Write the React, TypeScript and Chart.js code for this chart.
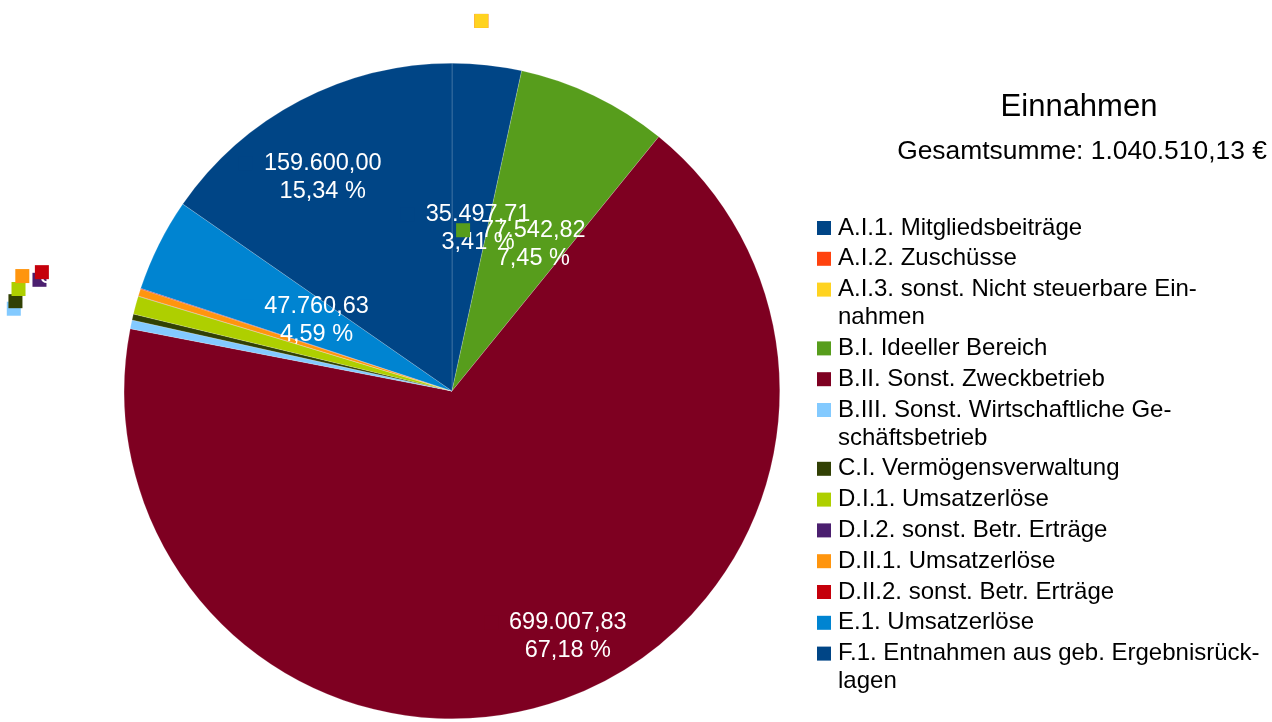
import React, { useEffect, useRef } from "react";
import { Chart, ArcElement, PieController } from "chart.js";

Chart.register(ArcElement, PieController);

// ---- data ----
const CATEGORIES = [
  "A.I.1. Mitgliedsbeiträge",
  "A.I.2. Zuschüsse",
  "A.I.3. sonst. Nicht steuerbare Ein\u00ADnahmen",
  "B.I. Ideeller Bereich",
  "B.II. Sonst. Zweckbetrieb",
  "B.III. Sonst. Wirtschaftliche Ge\u00ADschäftsbetrieb",
  "C.I. Vermögensverwaltung",
  "D.I.1. Umsatzerlöse",
  "D.I.2. sonst. Betr. Erträge",
  "D.II.1. Umsatzerlöse",
  "D.II.2. sonst. Betr. Erträge",
  "E.1. Umsatzerlöse",
  "F.1. Entnahmen aus geb. Ergebnisrück\u00ADlagen",
];
const VALUES = [
  35497.71, 0, 0, 77542.82, 699007.83, 4500.0, 3100.0, 9300.0, 150.0, 3700.0,
  351.14, 47760.63, 159600.0,
];
const TITLE = "Einnahmen";
const SUBTITLE = "Gesamtsumme: 1.040.510,13 €";

// ---- style ----
const COLORS = [
  "#004586", "#ff420e", "#ffd320", "#579d1c", "#7e0021", "#83caff", "#314004",
  "#aecf00", "#4b1f6f", "#ff950e", "#c5000b", "#0084d1", "#004586",
];
// label placement inside slices: [fraction along slice angle, radius factor]; null = outside
const LABEL_PLACE: ([number, number] | null)[] = [
  [0.73, 0.51], null, null, [0.605, 0.52], [0.477, 0.82],
  null, null, null, null, null, null,
  [0.615, 0.47], [0.442, 0.77],
];
const FONT = "'Liberation Sans', Arial, sans-serif";

function fmt(v: number): string {
  const s = v.toFixed(2);
  const [ip, dp] = s.split(".");
  const withDots = ip.replace(/\B(?=(\d{3})+(?!\d))/g, ".");
  return withDots + "," + dp;
}

const overlayPlugin = {
  id: "overlay",
  afterDraw(chart: any) {
    const ctx: CanvasRenderingContext2D = chart.ctx;
    const meta = chart.getDatasetMeta(0);
    const total = VALUES.reduce((a, b) => a + b, 0);
    ctx.save();
    // data labels
    const fs = 23.5;
    const lh = 28;
    const key = 14;
    const gap = 11;
    ctx.font = `${fs}px ${FONT}`;
    ctx.textBaseline = "middle";
    ctx.textAlign = "center";
    meta.data.forEach((arc: any, i: number) => {
      const p = arc.getProps(["x", "y", "startAngle", "endAngle", "outerRadius"], true);
      const l1 = fmt(VALUES[i]);
      const l2 = fmt((VALUES[i] / total) * 100) + " %";
      const w = Math.max(ctx.measureText(l1).width, ctx.measureText(l2).width);
      const place = LABEL_PLACE[i];
      let tx: number, cy: number;
      if (place) {
        const a = p.startAngle + place[0] * (p.endAngle - p.startAngle);
        tx = p.x + Math.cos(a) * p.outerRadius * place[1];
        cy = p.y + Math.sin(a) * p.outerRadius * place[1] + 3;
      } else {
        const a = (p.startAngle + p.endAngle) / 2;
        const ux = Math.cos(a);
        const uy = Math.sin(a);
        const d = p.outerRadius + 8;
        const ax = p.x + ux * d;
        const ay = p.y + uy * d;
        const W = key + gap + w;
        const H = lh * 2;
        let bx: number;
        if (Math.abs(ux) >= Math.abs(uy)) {
          bx = ax + Math.sign(ux) * W / 2;
          cy = ay;
        } else {
          bx = ax;
          cy = ay + Math.sign(uy) * H / 2;
        }
        tx = bx - W / 2 + key + gap + w / 2;
      }
      const y1 = cy - lh / 2;
      const y2 = cy + lh / 2;
      ctx.fillStyle = COLORS[i];
      ctx.fillRect(tx - w / 2 - gap - key, y1 - key / 2, key, key);
      ctx.fillStyle = "#ffffff";
      ctx.fillText(l1, tx, y1);
      ctx.fillText(l2, tx, y2);
    });
    // title
    ctx.fillStyle = "#000000";
    ctx.textAlign = "center";
    ctx.font = `31px ${FONT}`;
    ctx.fillText(TITLE, 1079, 107);
    ctx.font = `26.4px ${FONT}`;
    ctx.fillText(SUBTITLE, 1082, 152);
    // legend
    ctx.textAlign = "left";
    ctx.font = `24px ${FONT}`;
    let y = 228;
    CATEGORIES.forEach((name, i) => {
      const parts = name.split("\u00AD");
      const lines =
        parts.length > 1 ? [parts[0] + "-", parts.slice(1).join("")] : [parts[0]];
      ctx.fillStyle = COLORS[i];
      ctx.fillRect(817, y - 7, 14, 14);
      ctx.fillStyle = "#000000";
      lines.forEach((ln, k) => {
        ctx.fillText(ln, 838, y + k * 28);
      });
      y += (lines.length - 1) * 28 + 30.8;
    });
    ctx.restore();
  },
};

export default function App() {
  const ref = useRef<HTMLCanvasElement>(null);
  useEffect(() => {
    document.body.style.margin = "0";
    const chart = new Chart(ref.current!, {
      type: "pie",
      data: {
        labels: CATEGORIES.map((c) => c.replace(/\u00AD/g, "")),
        datasets: [
          {
            data: VALUES,
            backgroundColor: COLORS,
            borderColor: "rgba(255,255,255,0.35)",
            borderWidth: 0.5,
          },
        ],
      },
      options: {
        responsive: false,
        animation: false,
        devicePixelRatio: 1,
        layout: { padding: { left: 124, right: 492, top: 63, bottom: 3 } },
        plugins: { legend: { display: false }, tooltip: { enabled: false } },
      } as any,
      plugins: [overlayPlugin],
    });
    return () => chart.destroy();
  }, []);
  return (
    <div style={{ position: "fixed", left: 0, top: 0, width: 1272, height: 722, background: "#fff" }}>
      <canvas ref={ref} width={1272} height={722} />
    </div>
  );
}
